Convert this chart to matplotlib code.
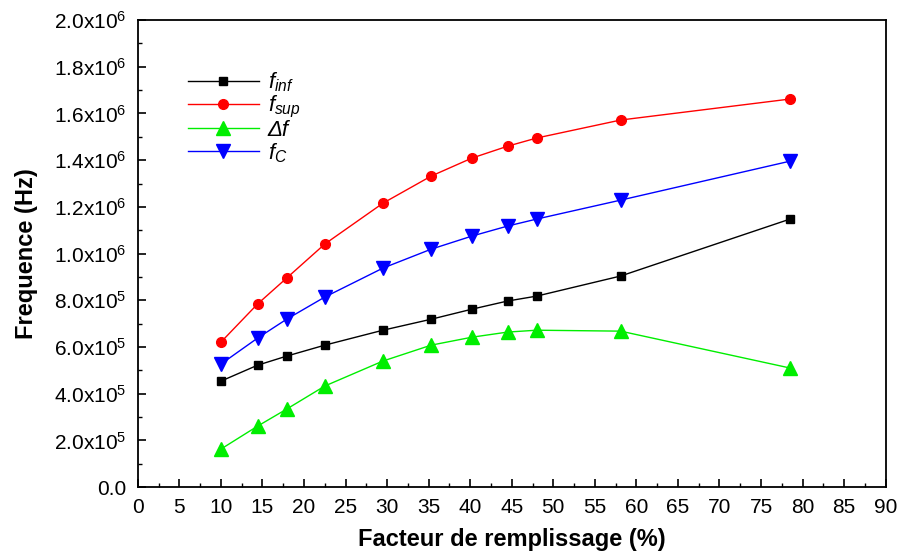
import numpy as np
import matplotlib
matplotlib.use('Agg')
import matplotlib.pyplot as plt
from matplotlib.ticker import FuncFormatter, MultipleLocator

plt.rcParams['font.family'] = ['Liberation Sans', 'DejaVu Sans']
plt.rcParams['mathtext.fontset'] = 'custom'
plt.rcParams['mathtext.rm'] = 'Liberation Sans'
plt.rcParams['mathtext.it'] = 'Liberation Sans:italic'

# filling factor (%)
x = [10, 14.4, 17.9, 22.5, 29.5, 35.3, 40.2, 44.5, 48.0, 58.1, 78.5]
# frequencies (Hz)
f_inf = [0.454e6, 0.522e6, 0.561e6, 0.608e6, 0.672e6, 0.719e6, 0.762e6, 0.797e6, 0.818e6, 0.904e6, 1.148e6]
f_sup = [0.621e6, 0.784e6, 0.895e6, 1.041e6, 1.216e6, 1.332e6, 1.409e6, 1.460e6, 1.495e6, 1.572e6, 1.662e6]
delta_f = [0.163e6, 0.261e6, 0.334e6, 0.433e6, 0.540e6, 0.608e6, 0.642e6, 0.664e6, 0.672e6, 0.668e6, 0.510e6]
f_c = [0.527e6, 0.638e6, 0.719e6, 0.814e6, 0.938e6, 1.019e6, 1.075e6, 1.118e6, 1.148e6, 1.229e6, 1.396e6]

fig = plt.figure(figsize=(9.01, 5.58), dpi=100)
ax = fig.add_axes([0.153, 0.127, 0.830, 0.837])

ax.plot(x, f_inf, '-s', color='black', lw=1, ms=6, label=r'$f_{inf}$')
ax.plot(x, f_sup, '-o', color='red', lw=1, ms=7, label=r'$f_{sup}$')
ax.plot(x, delta_f, '-^', color='#00ee00', lw=1, ms=10, label='Δf')
ax.plot(x, f_c, '-v', color='blue', lw=1, ms=10, label=r'$f_C$')

ax.set_xlim(0, 90)
ax.set_ylim(0, 2.0e6)
ax.xaxis.set_major_locator(MultipleLocator(5))
ax.xaxis.set_minor_locator(MultipleLocator(2.5))
ax.yaxis.set_major_locator(MultipleLocator(2e5))
ax.yaxis.set_minor_locator(MultipleLocator(1e5))


def fmt(v, pos):
    if v < 1:
        return '0.0'
    e = int(np.floor(np.log10(v) + 1e-9))
    m = v / 10 ** e
    return r'$\mathregular{%.1fx10^{%d}}$' % (m, e)


ax.yaxis.set_major_formatter(FuncFormatter(fmt))
ax.tick_params(which='both', direction='in', top=False, right=False, labelsize=15)
ax.tick_params(which='major', length=6, width=1.2, pad=8)
ax.tick_params(which='minor', length=3, width=1)
for s in ax.spines.values():
    s.set_linewidth(1.3)

ax.set_xlabel('Facteur de remplissage (%)', fontsize=17, fontweight='bold', labelpad=8)
ax.set_ylabel('Frequence (Hz)', fontsize=17, fontweight='bold', labelpad=12)

leg = ax.legend(loc='upper left', bbox_to_anchor=(0.04, 0.935), frameon=False, fontsize=16,
                handlelength=3.2, labelspacing=0.0, handletextpad=0.4)
leg.get_texts()[2].set_fontstyle('italic')

fig.savefig('out.png', dpi=100)
